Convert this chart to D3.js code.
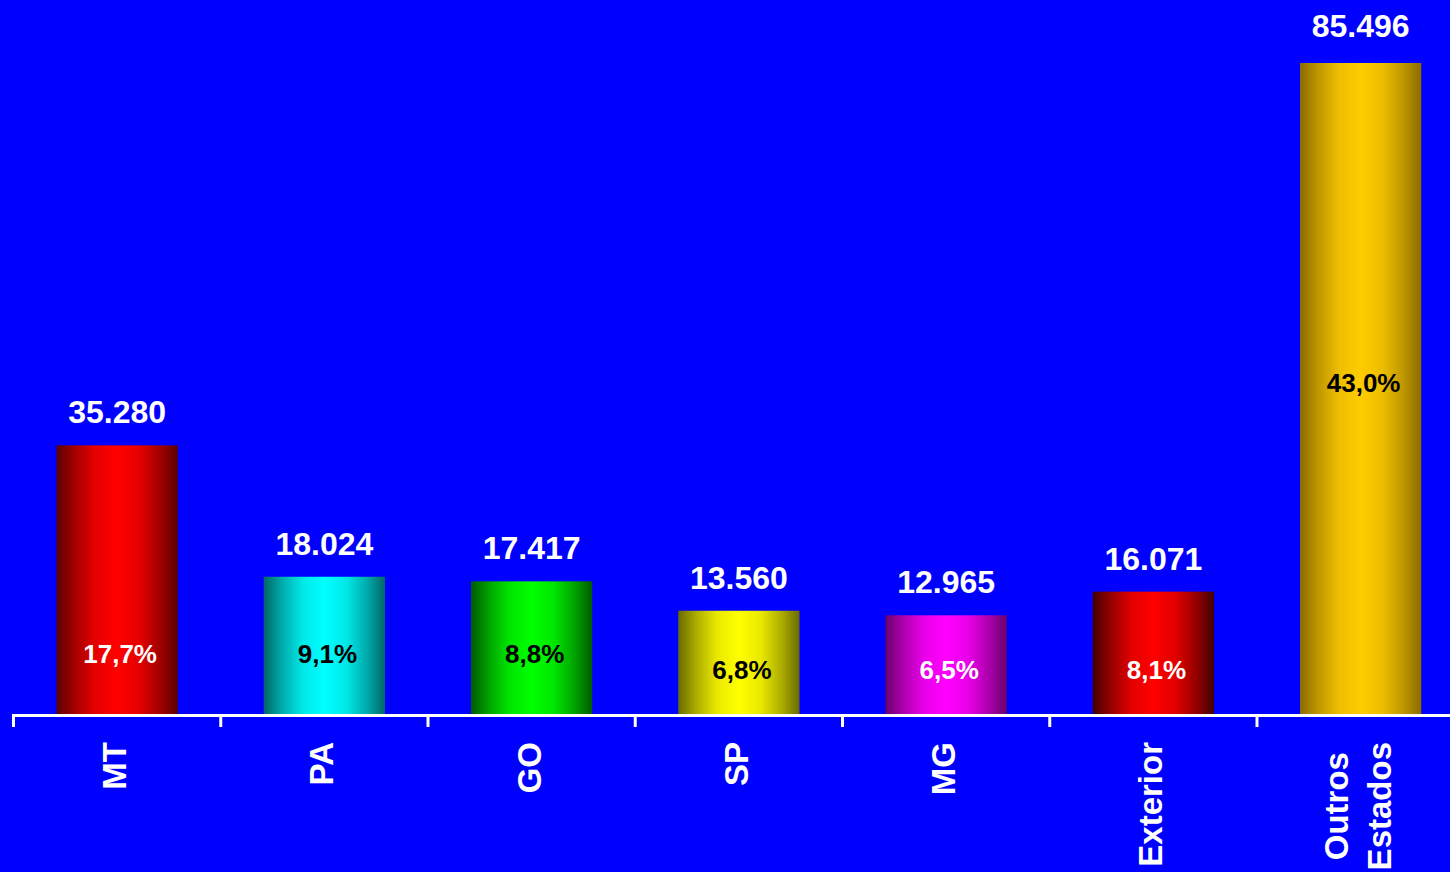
<!DOCTYPE html>
<html>
<head>
<meta charset="utf-8">
<script src="https://cdn.jsdelivr.net/npm/d3@7"></script>
<style>
  html, body { margin: 0; padding: 0; background: #0000ff; overflow: hidden; }
  svg { display: block; font-family: "Liberation Sans", Arial, sans-serif; font-weight: bold; }
</style>
</head>
<body>
<svg width="1450" height="872"></svg>
<script>
var categories = ["MT", "PA", "GO", "SP", "MG", "Exterior", "Outros Estados"];
var values = [35280, 18024, 17417, 13560, 12965, 16071, 85496];
var shares = ["17,7%", "9,1%", "8,8%", "6,8%", "6,5%", "8,1%", "43,0%"];
var brightColors = ["#ff0000", "#00ffff", "#00ff00", "#ffff00", "#ff00ff", "#ff0000", "#ffcc00"];
var darkColors = ["#5a0000", "#006666", "#005a00", "#6a6a00", "#6a006a", "#420000", "#8a6c00"];
var shareTextColors = ["#fff", "#000", "#000", "#000", "#fff", "#fff", "#000"];

var svg = d3.select("svg");
var width = +svg.attr("width");

var baseY = 714;

var x = d3.scaleBand()
  .domain(categories)
  .range([13.5, 13.5 + 7 * 207.25])
  .paddingInner(0.415)
  .paddingOuter(0.2075);

var y = d3.scaleLinear()
  .domain([0, 85496])
  .range([baseY, 63]);

// gradients: dark edges, bright middle
var defs = svg.append("defs");
categories.forEach(function (c, i) {
  var g = defs.append("linearGradient")
    .attr("id", "grad" + i)
    .attr("x1", "0%").attr("x2", "100%")
    .attr("y1", "0%").attr("y2", "0%");
  var mix = d3.interpolateRgb(darkColors[i], brightColors[i]);
  [[0, 0], [0.15, 0.45], [0.32, 0.85], [0.5, 1], [0.68, 0.85], [0.85, 0.45], [1, 0]].forEach(function (s) {
    g.append("stop").attr("offset", s[0]).attr("stop-color", mix(s[1]));
  });
});

svg.selectAll("rect.bar")
  .data(values)
  .enter()
  .append("rect")
  .attr("class", "bar")
  .attr("x", (d, i) => x(categories[i]))
  .attr("width", x.bandwidth())
  .attr("y", d => y(d))
  .attr("height", d => baseY - y(d))
  .attr("fill", (d, i) => "url(#grad" + i + ")");

// value labels above bars
svg.selectAll("text.val")
  .data(values)
  .enter()
  .append("text")
  .attr("class", "val")
  .attr("x", (d, i) => x(categories[i]) + x.bandwidth() / 2)
  .attr("y", d => y(d) - (d > 50000 ? 26 : 22))
  .attr("text-anchor", "middle")
  .attr("fill", "#fff")
  .attr("font-size", 32)
  .text(d => d3.format(",")(d).replace(/,/g, "."));

// share labels inside bars
svg.selectAll("text.pct")
  .data(shares)
  .enter()
  .append("text")
  .attr("class", "pct")
  .attr("x", (d, i) => x(categories[i]) + x.bandwidth() / 2 + 3)
  .attr("y", function (d, i) {
    var v = values[i];
    if (v > 50000) return y(v / 2) + 3;
    return v > 17000 ? 663 : 679;
  })
  .attr("text-anchor", "middle")
  .attr("fill", (d, i) => shareTextColors[i])
  .attr("font-size", 26)
  .text(d => d);

// axis
var axis = svg.append("g");
axis.append("line")
  .attr("x1", 12).attr("x2", width)
  .attr("y1", baseY + 1.5).attr("y2", baseY + 1.5)
  .attr("stroke", "#fff").attr("stroke-width", 3);

var step = x.step();
var tickXs = d3.range(categories.length + 1).map(i => 13.5 + i * step);
axis.selectAll("line.tick")
  .data(tickXs)
  .enter()
  .append("line")
  .attr("class", "tick")
  .attr("x1", d => d).attr("x2", d => d)
  .attr("y1", baseY).attr("y2", baseY + 13)
  .attr("stroke", "#fff").attr("stroke-width", 3);

// rotated category labels
var labelSize = 33;
categories.forEach(function (c, i) {
  var cx = x(c) + x.bandwidth() / 2;
  var lines = c.split(" ");
  var g = svg.append("g");
  var texts = lines.map(function (ln, j) {
    return g.append("text")
      .attr("text-anchor", "middle")
      .attr("fill", "#fff")
      .attr("font-size", labelSize)
      .text(ln);
  });
  var maxLen = d3.max(texts, t => t.node().getComputedTextLength());
  var centerY = 742 + maxLen / 2;
  var lineH = labelSize * 1.3;
  texts.forEach(function (t, j) {
    var off = (j - (lines.length - 1) / 2) * lineH;
    var px = cx + off + labelSize * 0.27;
    t.attr("transform", "translate(" + px + "," + centerY + ") rotate(-90)");
  });
});
</script>
</body>
</html>
